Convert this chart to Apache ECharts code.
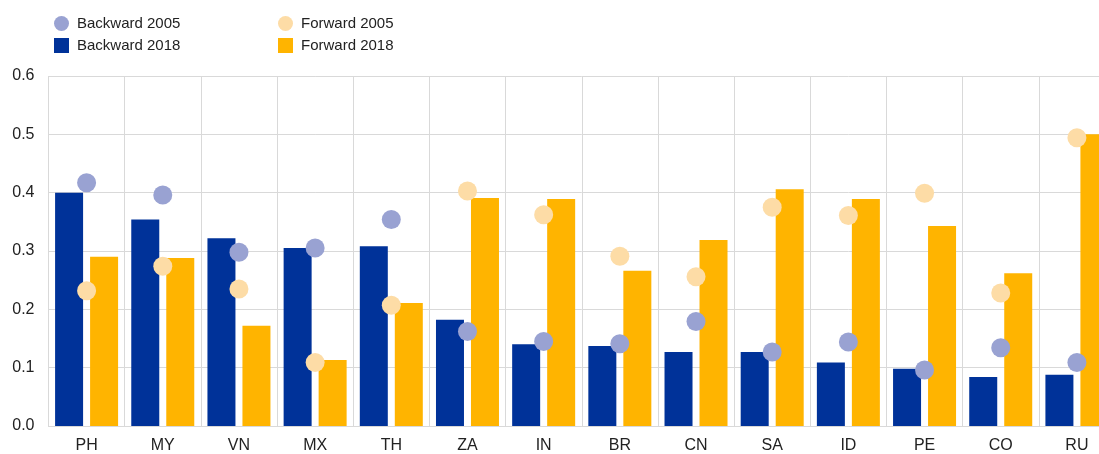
<!DOCTYPE html>
<html>
<head>
<meta charset="utf-8">
<script src="https://cdn.jsdelivr.net/npm/echarts@6/dist/echarts.min.js"></script>
<style>
  html, body { margin: 0; padding: 0; overflow: hidden; background: #fff; }
  #wrap { width: 1099px; height: 454px; overflow: hidden; position: relative; }
  #chart { width: 1115px; height: 454px; position: absolute; left: 0; top: 0; }
</style>
</head>
<body>
<div id="wrap"><div id="chart"></div></div>
<script>
const countries = ['PH', 'MY', 'VN', 'MX', 'TH', 'ZA', 'IN', 'BR', 'CN', 'SA', 'ID', 'PE', 'CO', 'RU']
const backward2018 = [0.400, 0.354, 0.322, 0.305, 0.308, 0.182, 0.140, 0.137, 0.127, 0.127, 0.109, 0.098, 0.084, 0.088]
const forward2018 = [0.290, 0.288, 0.172, 0.113, 0.211, 0.391, 0.389, 0.266, 0.319, 0.406, 0.389, 0.343, 0.262, 0.500]
const backward2005 = [0.417, 0.396, 0.298, 0.305, 0.354, 0.162, 0.145, 0.141, 0.179, 0.127, 0.144, 0.096, 0.134, 0.109]
const forward2005 = [0.232, 0.274, 0.235, 0.109, 0.207, 0.403, 0.362, 0.291, 0.256, 0.375, 0.361, 0.399, 0.228, 0.494]

const darkBlue = '#003299'
const yellow = '#ffb400'
const lightBlue = '#99a2d2'
const lightYellow = '#fddca6'
const font = 'Liberation Sans, Arial, sans-serif'

const myChart = echarts.init(document.getElementById('chart'))
myChart.setOption({
  animation: false,
  textStyle: { fontFamily: font },
  legend: [
    {
      orient: 'vertical',
      left: 49,
      top: 11,
      itemWidth: 15,
      itemHeight: 15,
      itemGap: 7,
      textStyle: { fontSize: 15, color: '#222', padding: [0, 0, 0, 3] },
      data: [
        { name: 'Backward 2005', icon: 'circle' },
        { name: 'Backward 2018', icon: 'rect' },
      ],
    },
    {
      orient: 'vertical',
      left: 273,
      top: 11,
      itemWidth: 15,
      itemHeight: 15,
      itemGap: 7,
      textStyle: { fontSize: 15, color: '#222', padding: [0, 0, 0, 3] },
      data: [
        { name: 'Forward 2005', icon: 'circle' },
        { name: 'Forward 2018', icon: 'rect' },
      ],
    },
  ],
  grid: {
    left: 48.5,
    right: 0,
    top: 76,
    bottom: 26,
  },
  xAxis: {
    type: 'category',
    data: countries,
    axisTick: { show: false },
    axisLine: { lineStyle: { color: '#d9d9d9' } },
    axisLabel: { color: '#222', fontSize: 16, margin: 12 },
    splitLine: { show: true, lineStyle: { color: '#d9d9d9' } },
  },
  yAxis: {
    type: 'value',
    min: 0,
    max: 0.6,
    interval: 0.1,
    axisLine: { show: false },
    axisTick: { show: false },
    axisLabel: {
      color: '#222',
      fontSize: 16,
      margin: 14,
      formatter: (v) => v.toFixed(1),
    },
    splitLine: { lineStyle: { color: '#d9d9d9' } },
  },
  series: [
    {
      name: 'Backward 2018',
      type: 'bar',
      barWidth: 28,
      barGap: '25%',
      itemStyle: { color: darkBlue },
      data: backward2018,
    },
    {
      name: 'Forward 2018',
      type: 'bar',
      barWidth: 28,
      barGap: '25%',
      itemStyle: { color: yellow },
      data: forward2018,
    },
    {
      name: 'Backward 2005',
      type: 'scatter',
      symbolSize: 19,
      itemStyle: { color: lightBlue, opacity: 1 },
      z: 5,
      data: backward2005,
    },
    {
      name: 'Forward 2005',
      type: 'scatter',
      symbolSize: 19,
      itemStyle: { color: lightYellow, opacity: 1 },
      z: 5,
      data: forward2005,
    },
  ],
})
</script>
</body>
</html>
